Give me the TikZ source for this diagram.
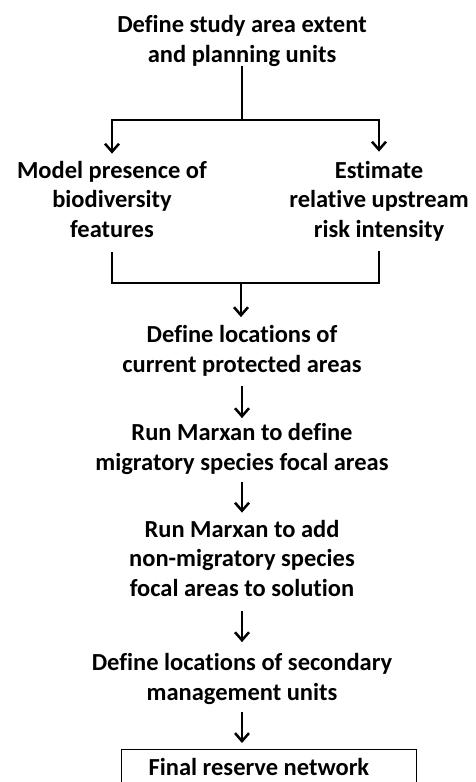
\documentclass[tikz,border=0pt]{standalone}
\usepackage{fontspec}
\setmainfont{Carlito}[Ligatures=NoCommon]
\usetikzlibrary{arrows.meta,calc}
\begin{document}
\begin{tikzpicture}[x=1pt,y=-1pt,
  txt/.style={font=\fontsize{24.5}{29.5}\selectfont\bfseries, align=center, inner sep=0pt, anchor=base},
  ln/.style={line width=2.5pt},
  arr/.style={ln, -{Straight Barb[length=8pt,width=14pt]}},
  finalbox/.style={draw, line width=1.3pt, anchor=north west, inner xsep=27pt, inner ysep=9pt,
     text width=241pt, align=flush left, text height=17pt, text depth=20pt,
     font=\fontsize{24.5}{29.5}\selectfont\bfseries}]
\path[use as bounding box, clip] (0,0) rectangle (476,782);
\fill[white] (0,0) rectangle (476,782);

\node[txt] (t)  at (242,62)  {Define study area extent\\and planning units};
\node[txt] (m)  at (112,237) {Model presence of\\biodiversity\\features};
\node[txt] (e)  at (379,237) {Estimate\\relative upstream\\risk intensity};
\node[txt] (d1) at (242,372) {Define locations of\\current protected areas};
\node[txt] (r1) at (242,470) {Run Marxan to define\\migratory species focal areas};
\node[txt] (r2) at (242,596) {Run Marxan to add\\non-migratory species\\focal areas to solution};
\node[txt] (d2) at (242,700) {Define locations of secondary\\management units};
\node[finalbox] (f) at (121,749) {Final reserve network};

\coordinate (j1) at (242,120);
\coordinate (j2) at (241,283);

\draw[ln] (t.south) -- (j1);
\draw[arr, shorten >=7pt] (j1) -| (m.north);
\draw[arr, shorten >=9pt] (j1) -| (e.north);
\draw[ln] ($(m.south)+(0,15)$) |- (j2) -| ($(e.south)+(0,10)$);
\draw[arr, shorten >=8pt] (j2) -- (j2 |- d1.north);
\draw[arr, shorten <=10pt, shorten >=5pt] (d1.south) -- (r1.north);
\draw[arr, shorten <=8pt, shorten >=7pt] (r1.south) -- (r2.north);
\draw[arr, shorten <=15pt, shorten >=11pt] (r2.south) -- (d2.north);
\draw[arr, shorten <=8pt, shorten >=6pt] (d2.south) -- (d2.south |- f.north);
\end{tikzpicture}
\end{document}
